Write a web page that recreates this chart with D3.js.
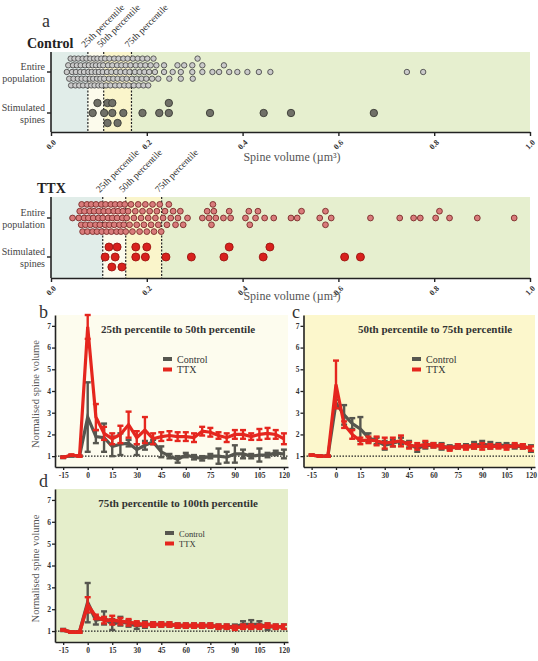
<!DOCTYPE html>
<html lang="en">
<head>
<meta charset="UTF-8">
<title>Spine volume after stimulation</title>
<script src="https://d3js.org/d3.v7.min.js"></script>
<style>
  body { margin: 0; background: #fff; }
  svg { display: block; font-family: "Liberation Serif", serif; }
</style>
</head>
<body>
<svg id="fig" width="538" height="661"></svg>
<script>
// ---- panel a data (spine volume, um^3) ----
const rowLabels = ["Entire population", "Stimulated spines"];
const pctLabels = ["25th percentile", "50th percentile", "75th percentile"];
const volTicks = [0, 0.2, 0.4, 0.6, 0.8, 1.0];

const ctrlPct = [0.077, 0.110, 0.168];
const ttxPct = [0.108, 0.156, 0.231];

const ctrlPop = [0.033,0.036,0.038,0.041,0.042,0.044,0.046,0.047,0.049,0.051,0.052,0.054,0.056,0.057,0.059,0.061,0.062,0.064,0.066,0.067,0.069,0.071,0.072,0.074,0.076,
  0.078,0.079,0.081,0.082,0.084,0.085,0.087,0.088,0.090,0.091,0.093,0.094,0.096,0.097,0.099,0.100,0.102,0.103,0.105,0.106,0.108,0.109,
  0.111,0.113,0.115,0.117,0.119,0.121,0.122,0.124,0.126,0.128,0.130,0.132,0.134,0.136,0.138,0.139,0.141,0.143,0.145,0.147,0.149,0.151,0.153,0.155,0.156,0.158,0.160,0.162,0.164,0.166,
  0.169,0.171,0.173,0.175,0.177,0.179,0.181,0.183,0.185,0.187,0.189,0.191,0.193,0.195,0.197,0.199,0.201,0.203,0.205,0.208,0.211,0.214,0.217,0.220,0.224,
  0.236,0.236,0.247,0.254,0.264,0.271,0.271,0.278,0.295,0.295,0.296,0.306,0.316,0.316,0.337,0.351,0.361,0.372,0.389,0.410,0.434,0.458,0.743,0.777];
const ctrlStim = [0.087,0.097,0.111,0.118,0.118,0.128,0.128,0.139,0.151,0.191,0.226,0.246,0.246,0.332,0.444,0.501,0.674];

const ttxPop = [0.045,
  0.058,0.060,0.063,0.064,0.066,0.069,0.070,0.072,0.075,0.076,0.078,0.081,0.082,0.084,0.087,0.088,0.090,0.093,0.094,0.096,0.099,0.100,0.102,0.105,0.106,0.108,
  0.110,0.113,0.114,0.116,0.119,0.120,0.122,0.125,0.126,0.128,0.131,0.132,0.134,0.137,0.138,0.140,0.143,0.144,0.146,0.149,0.150,0.152,0.154,0.156,
  0.158,0.161,0.164,0.167,0.170,0.173,0.176,0.179,0.182,0.185,0.188,0.191,0.194,0.197,0.200,0.203,0.206,0.209,0.212,0.215,0.218,0.221,0.224,0.227,0.230,
  0.234,0.238,0.242,0.246,0.250,0.255,0.260,0.265,0.270,0.276,0.285,
  0.316,0.326,0.330,0.335,0.338,0.340,0.344,0.360,0.372,0.375,0.406,0.413,0.415,0.427,0.432,0.446,0.465,0.501,0.514,0.523,0.561,0.573,0.573,0.585,0.667,0.728,0.757,0.771,0.803,0.811,0.832,0.890,0.967];
const ttxStim = [0.113,0.121,0.127,0.134,0.138,0.148,0.177,0.177,0.197,0.200,0.240,0.293,0.361,0.372,0.443,0.457,0.613,0.646];

// ---- panels b-d data (normalised spine volume, mean and error) ----
const minutes = [-15,-10,-5,0,5,10,15,20,25,30,35,40,45,50,55,60,65,70,75,80,85,90,95,100,105,110,115,120];
const timeTicks = [-15,0,15,30,45,60,75,90,105,120];
const normTicks = [1,2,3,4,5,6,7];

const bCtrl    = [0.95,1.02,1.0,2.8,1.9,1.85,1.45,1.55,1.6,1.3,1.5,1.65,1.2,1.0,0.85,1.05,0.95,0.9,1.0,1.0,0.95,1.1,1.1,1.0,1.05,1.05,1.15,1.1];
const bCtrlErr = [0.04,0.04,0.03,1.6,0.3,0.65,0.45,0.5,0.15,0.25,0.2,0.1,0.25,0.1,0.15,0.1,0.1,0.1,0.1,0.35,0.25,0.4,0.2,0.1,0.3,0.1,0.1,0.2];
const bTtx     = [0.95,1.05,1.0,6.95,2.8,2.05,1.8,2.0,2.45,1.85,2.2,1.8,1.9,1.95,1.9,1.9,1.85,2.15,2.1,1.95,1.85,2.0,2.0,1.9,2.0,2.05,2.0,1.8];
const bTtxErr  = [0.03,0.03,0.03,0.55,0.6,0.3,0.25,0.4,0.6,0.3,0.6,0.25,0.2,0.2,0.2,0.2,0.2,0.2,0.2,0.15,0.2,0.2,0.2,0.15,0.25,0.25,0.2,0.25];

const cCtrl    = [1.05,1.0,1.0,3.45,2.9,2.5,2.25,1.85,1.7,1.5,1.6,1.7,1.55,1.35,1.5,1.5,1.45,1.4,1.45,1.45,1.5,1.55,1.5,1.5,1.5,1.45,1.45,1.35];
const cCtrlErr = [0.03,0.03,0.03,0.15,0.45,0.25,0.55,0.2,0.15,0.2,0.15,0.15,0.15,0.15,0.15,0.1,0.15,0.1,0.1,0.1,0.15,0.15,0.15,0.1,0.1,0.1,0.1,0.15];
const cTtx     = [1.05,1.0,1.0,4.3,2.45,2.0,1.7,1.75,1.7,1.6,1.65,1.7,1.5,1.45,1.55,1.5,1.45,1.35,1.45,1.4,1.45,1.45,1.45,1.45,1.4,1.5,1.45,1.35];
const cTtxErr  = [0.03,0.03,0.03,1.1,0.15,0.2,0.15,0.15,0.2,0.25,0.2,0.25,0.15,0.15,0.15,0.1,0.1,0.1,0.1,0.1,0.1,0.15,0.1,0.1,0.1,0.1,0.1,0.1];

const dCtrl    = [1.05,0.95,0.95,2.3,1.5,1.6,1.3,1.45,1.35,1.25,1.3,1.3,1.3,1.3,1.25,1.25,1.25,1.25,1.25,1.2,1.2,1.2,1.3,1.3,1.3,1.2,1.2,1.2];
const dCtrlErr = [0.05,0.03,0.03,0.9,0.2,0.3,0.25,0.2,0.15,0.15,0.15,0.1,0.1,0.1,0.1,0.1,0.1,0.1,0.1,0.1,0.1,0.1,0.15,0.2,0.15,0.15,0.1,0.1];
const dTtx     = [1.05,0.95,0.95,2.2,1.65,1.5,1.5,1.45,1.4,1.35,1.3,1.3,1.3,1.3,1.25,1.25,1.25,1.25,1.25,1.2,1.2,1.15,1.2,1.2,1.2,1.25,1.2,1.2];
const dTtxErr  = [0.03,0.03,0.03,0.35,0.1,0.15,0.2,0.15,0.15,0.1,0.1,0.1,0.1,0.1,0.1,0.1,0.1,0.1,0.1,0.1,0.1,0.1,0.1,0.1,0.1,0.1,0.1,0.1];

const svg = d3.select("#fig");
const grey = "#56564f", red = "#e5261e";

// simple beeswarm: fill rows around the centre, overlap when every row is taken
function swarm(values, x, step, nRows, minGap) {
  const order = [0];
  for (let k = 1; k <= nRows; k++) order.push(-k, k);
  const placed = [];
  values.slice().sort(d3.ascending).forEach(v => {
    const cx = x(v);
    const gaps = order.map(row => {
      const m = d3.min(placed, p => p.row === row ? Math.abs(p.cx - cx) : Infinity);
      return m === undefined ? Infinity : m;
    });
    let idx = gaps.findIndex(g => g >= minGap);
    if (idx < 0) idx = d3.maxIndex(gaps);
    placed.push({ v, cx, row: order[idx], dy: order[idx] * step });
  });
  return placed;
}

function dotPanel(cfg) {
  const g = svg.append("g");
  const x = d3.scaleLinear().domain([0, 1]).range([51, 530]);
  const rows = d3.scalePoint().domain(rowLabels).range([cfg.popY, cfg.stimY]);
  const bands = d3.pairs([0, ...cfg.pct, 1]);
  const bg = ["#e1ede9", "#fcfbec", "#faf5cb", "#e6efcf"];

  g.selectAll("rect.bg").data(bands).join("rect")
    .attr("x", d => x(d[0]))
    .attr("width", d => x(d[1]) - x(d[0]))
    .attr("y", cfg.top)
    .attr("height", cfg.axisY - cfg.top)
    .attr("fill", (d, i) => bg[i]);

  g.selectAll("line.pct").data(cfg.pct).join("line")
    .attr("x1", d => x(d)).attr("x2", d => x(d))
    .attr("y1", cfg.top).attr("y2", cfg.axisY)
    .attr("stroke", "#222").attr("stroke-width", 1.2)
    .attr("stroke-dasharray", "2,1.5");

  g.selectAll("text.pct").data(cfg.pct).join("text")
    .attr("transform", d => `translate(${x(d) - 3},${cfg.top - 4}) rotate(-45)`)
    .attr("font-size", 9.5).attr("fill", "#333")
    .text((d, i) => pctLabels[i]);

  const pop = swarm(cfg.pop, x, cfg.popStep, 2, cfg.popR * 2);
  g.selectAll("circle.pop").data(pop).join("circle")
    .attr("cx", d => d.cx).attr("cy", d => rows(rowLabels[0]) + d.dy)
    .attr("r", cfg.popR)
    .attr("fill", cfg.popFill).attr("stroke", cfg.popStroke).attr("stroke-width", 0.9);

  const stim = swarm(cfg.stim, x, 10, 1, 7.6);
  g.selectAll("circle.stim").data(stim).join("circle")
    .attr("cx", d => d.cx).attr("cy", d => rows(rowLabels[1]) + d.dy)
    .attr("r", cfg.stimR)
    .attr("fill", cfg.stimFill).attr("stroke", cfg.stimStroke).attr("stroke-width", 0.9);

  // axes
  const xa = g.append("g").attr("transform", `translate(0,${cfg.axisY})`)
    .call(d3.axisBottom(x).tickValues(volTicks).tickFormat(d3.format(".1f")).tickSize(4).tickSizeOuter(0));
  xa.select(".domain").attr("stroke", "#222").attr("stroke-width", 1.6);
  xa.selectAll(".tick line").attr("stroke", "#222").attr("stroke-width", 1.4);
  xa.selectAll(".tick text")
    .attr("x", 0).attr("y", 0).attr("dy", "0.35em")
    .attr("text-anchor", "end")
    .attr("transform", "translate(3,9) rotate(-45)")
    .attr("font-family", "Liberation Serif, serif")
    .attr("font-weight", "bold").attr("font-size", 8).attr("fill", "#333");

  g.append("line")
    .attr("x1", x(0)).attr("x2", x(0))
    .attr("y1", cfg.top).attr("y2", cfg.axisY)
    .attr("stroke", "#222").attr("stroke-width", 1.6);
  g.selectAll("line.rowtick").data(rowLabels).join("line")
    .attr("x1", x(0) - 4).attr("x2", x(0))
    .attr("y1", d => rows(d)).attr("y2", d => rows(d))
    .attr("stroke", "#222").attr("stroke-width", 1.4);

  g.selectAll("text.row").data(rowLabels).join("text")
    .attr("x", 45).attr("y", d => rows(d) - 2)
    .attr("text-anchor", "end").attr("font-size", 10).attr("fill", "#444")
    .selectAll("tspan").data(d => d.split(" ")).join("tspan")
    .attr("x", 45).attr("dy", (d, i) => i === 0 ? "0em" : "1.15em")
    .text(d => d);

  g.append("text")
    .attr("x", cfg.nameX).attr("y", cfg.top - 4)
    .attr("font-size", 14).attr("font-weight", "bold").attr("fill", "#222")
    .text(cfg.name);

  g.append("text")
    .attr("x", 292).attr("y", cfg.titleY)
    .attr("text-anchor", "middle").attr("font-size", 12).attr("fill", "#555")
    .text("Spine volume (µm³)");
}

dotPanel({ name: "Control", nameX: 27, top: 52, axisY: 132, popY: 72, stimY: 113, titleY: 161,
  pct: ctrlPct, pop: ctrlPop, stim: ctrlStim, popStep: 6.7, popR: 2.7, stimR: 3.7,
  popFill: "#cacaca", popStroke: "#4e4e4e", stimFill: "#707068", stimStroke: "#3b3b36" });
dotPanel({ name: "TTX", nameX: 37, top: 197, axisY: 278, popY: 218, stimY: 257, titleY: 300,
  pct: ttxPct, pop: ttxPop, stim: ttxStim, popStep: 6.8, popR: 2.9, stimR: 4,
  popFill: "#d97b7b", popStroke: "#7a2c2a", stimFill: "#d8211d", stimStroke: "#9c1612" });

svg.append("text").attr("x", 42).attr("y", 27).attr("font-size", 18).attr("fill", "#333").text("a");

function timePanel(cfg) {
  const g = svg.append("g");
  const x = d3.scaleLinear().domain([-20, 122.5]).range([cfg.left, cfg.right]);
  const y = d3.scaleLinear().domain([0.5, 7.5]).range([cfg.bottom, cfg.top]);

  g.append("rect")
    .attr("x", cfg.left).attr("y", cfg.top)
    .attr("width", cfg.right - cfg.left).attr("height", cfg.bottom - cfg.top)
    .attr("fill", cfg.bg);

  g.append("line")
    .attr("x1", cfg.left).attr("x2", cfg.right)
    .attr("y1", y(1)).attr("y2", y(1))
    .attr("stroke", "#222").attr("stroke-width", 1.2).attr("stroke-dasharray", "1.5,1.5");

  const series = [
    { mean: cfg.ctrl, err: cfg.ctrlErr, color: grey },
    { mean: cfg.ttx, err: cfg.ttxErr, color: red }
  ];
  const line = d3.line().x(d => x(d.t)).y(d => y(d.m));
  series.forEach(s => {
    const pts = minutes.map((t, i) => ({ t, m: s.mean[i], e: s.err[i] }));
    g.append("path").datum(pts)
      .attr("d", line).attr("fill", "none")
      .attr("stroke", s.color).attr("stroke-width", cfg.lw).attr("stroke-linejoin", "miter");
    const eb = g.append("g").attr("stroke", s.color).attr("stroke-width", cfg.ew);
    eb.selectAll("line.v").data(pts).join("line")
      .attr("x1", d => x(d.t)).attr("x2", d => x(d.t))
      .attr("y1", d => y(d.m - d.e)).attr("y2", d => y(d.m + d.e));
    eb.selectAll("line.top").data(pts).join("line")
      .attr("x1", d => x(d.t) - 3).attr("x2", d => x(d.t) + 3)
      .attr("y1", d => y(d.m + d.e)).attr("y2", d => y(d.m + d.e));
    eb.selectAll("line.bot").data(pts).join("line")
      .attr("x1", d => x(d.t) - 3).attr("x2", d => x(d.t) + 3)
      .attr("y1", d => y(d.m - d.e)).attr("y2", d => y(d.m - d.e));
  });

  const xa = g.append("g").attr("transform", `translate(0,${cfg.bottom})`)
    .call(d3.axisBottom(x).tickValues(timeTicks).tickFormat(d => String(d)).tickSize(3).tickSizeOuter(0));
  const ya = g.append("g").attr("transform", `translate(${cfg.left},0)`)
    .call(d3.axisLeft(y).tickValues(normTicks).tickFormat(d => String(d)).tickSize(3).tickSizeOuter(0));
  [xa, ya].forEach(a => {
    a.select(".domain").attr("stroke", "#222").attr("stroke-width", 1.6);
    a.selectAll(".tick line").attr("stroke", "#222").attr("stroke-width", 1.3);
    a.selectAll(".tick text").attr("font-family", "Liberation Serif, serif")
      .attr("font-weight", "bold").attr("font-size", 7.5).attr("fill", "#333");
  });
  xa.selectAll(".tick text").attr("y", 6);
  ya.selectAll(".tick text").attr("x", -4);

  g.append("text")
    .attr("x", cfg.titleX).attr("y", cfg.top + 18)
    .attr("text-anchor", "middle").attr("font-size", 11).attr("font-weight", "bold").attr("fill", "#333")
    .text(cfg.title);

  const leg = g.append("g").attr("transform", `translate(${cfg.legX},${cfg.legY})`);
  [["Control", grey], ["TTX", red]].forEach(([name, c], i) => {
    leg.append("line").attr("x1", 0).attr("x2", 9).attr("y1", i * 10.5).attr("y2", i * 10.5)
      .attr("stroke", c).attr("stroke-width", 4);
    leg.append("text").attr("x", 14).attr("y", i * 10.5 + 3.5)
      .attr("font-size", cfg.legSize).attr("fill", "#333").text(name);
  });

  if (cfg.ylab) {
    g.append("text")
      .attr("transform", `translate(39,${(cfg.top + cfg.bottom) / 2 + 3}) rotate(-90)`)
      .attr("text-anchor", "middle").attr("font-size", 10.5).attr("fill", "#555")
      .text("Normalised spine volume");
  }
  g.append("text").attr("x", cfg.labX).attr("y", cfg.labY)
    .attr("font-size", 18).attr("fill", "#333").text(cfg.label);
}

timePanel({ label: "b", labX: 39, labY: 318, left: 55, right: 288, top: 315, bottom: 467, bg: "#fdfcee",
  title: "25th percentile to 50th percentile", titleX: 178, legX: 163, legY: 359, legSize: 10, ylab: true,
  ctrl: bCtrl, ctrlErr: bCtrlErr, ttx: bTtx, ttxErr: bTtxErr, lw: 3.2, ew: 2.4 });
timePanel({ label: "c", labX: 292, labY: 318, left: 303.5, right: 535, top: 315, bottom: 467, bg: "#fcf7cc",
  title: "50th percentile to 75th percentile", titleX: 435, legX: 412, legY: 359, legSize: 10, ylab: false,
  ctrl: cCtrl, ctrlErr: cCtrlErr, ttx: cTtx, ttxErr: cTtxErr, lw: 3.2, ew: 2.4 });
timePanel({ label: "d", labX: 39, labY: 487, left: 55, right: 288, top: 489, bottom: 642, bg: "#e5eecb",
  title: "75th percentile to 100th percentile", titleX: 178, legX: 165, legY: 533, legSize: 8.5, ylab: true,
  ctrl: dCtrl, ctrlErr: dCtrlErr, ttx: dTtx, ttxErr: dTtxErr, lw: 3.6, ew: 2.4 });
</script>
</body>
</html>
